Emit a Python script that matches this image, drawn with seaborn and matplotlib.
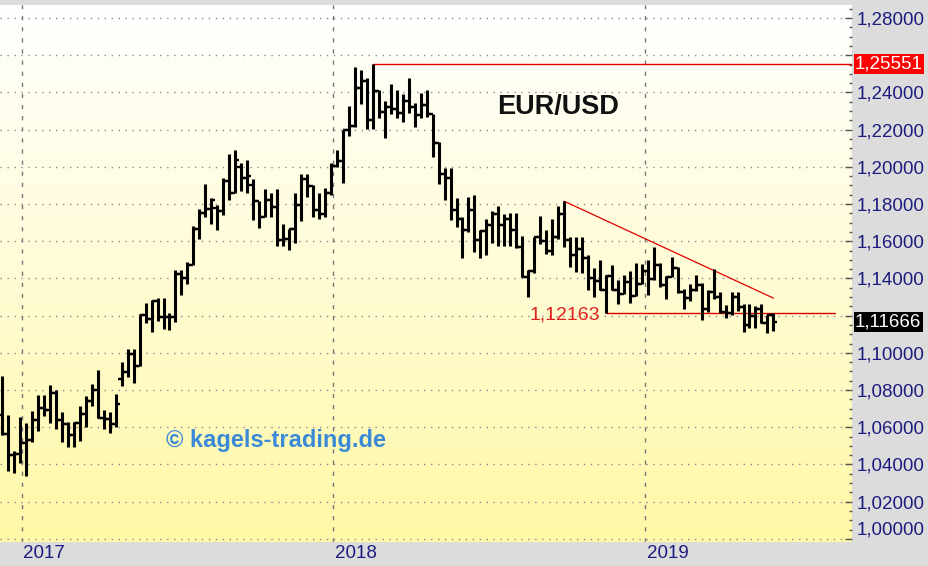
"""
eurusd_weekly.py
----------------
Weekly EUR/USD bar chart (Dec 2016 - May 2019) with the 2018 high,
the falling trend line and the support at 1,12163.
"""

import numpy as np
import pandas as pd
import matplotlib
matplotlib.use("Agg")
import matplotlib.pyplot as plt
import matplotlib.transforms as mtransforms
from matplotlib.colors import LinearSegmentedColormap
from matplotlib.path import Path
from matplotlib.ticker import FuncFormatter, MultipleLocator
import seaborn as sns

# weekly bars, dated by the Friday of each week
week_dates = pd.date_range("2016-12-09", "2019-05-31", freq="W-FRI")

opens = [
    1.0665, 1.0562, 1.0450, 1.0454, 1.0517, 1.0530, 1.0640, 1.0702, 1.0695, 1.0785,
    1.0640, 1.0615, 1.0560, 1.0620, 1.0670, 1.0740, 1.0800, 1.0650, 1.0645, 1.0615,
    1.0860, 1.0895, 1.0995, 1.0930, 1.1205, 1.1180, 1.1280, 1.1195, 1.1195, 1.1190,
    1.1425, 1.1400, 1.1470, 1.1665, 1.1750, 1.1775, 1.1780, 1.1760, 1.1925, 1.1860,
    1.2000, 1.1940, 1.1900, 1.1815, 1.1730, 1.1820, 1.1785, 1.1605, 1.1610, 1.1665,
    1.1795, 1.1935, 1.1895, 1.1770, 1.1745, 1.1860, 1.2005, 1.2030, 1.2200, 1.2220,
    1.2425, 1.2460, 1.2250, 1.2405, 1.2295, 1.2320, 1.2310, 1.2290, 1.2355, 1.2320,
    1.2280, 1.2330, 1.2285, 1.2130, 1.1960, 1.1940, 1.1770, 1.1720, 1.1660, 1.1770,
    1.1605, 1.1655, 1.1685, 1.1745, 1.1685, 1.1720, 1.1660, 1.1570, 1.1410, 1.1440,
    1.1620, 1.1600, 1.1550, 1.1625, 1.1745, 1.1605, 1.1525, 1.1560, 1.1510, 1.1400,
    1.1385, 1.1335, 1.1415, 1.1340, 1.1315, 1.1380, 1.1305, 1.1370, 1.1440, 1.1395,
    1.1470, 1.1365, 1.1405, 1.1455, 1.1325, 1.1295, 1.1335, 1.1365, 1.1235, 1.1325,
    1.1300, 1.1220, 1.1215, 1.1300, 1.1245, 1.1150, 1.1200, 1.1235, 1.1160, 1.1205,
]
highs = [
    1.0874, 1.0668, 1.0470, 1.0654, 1.0620, 1.0685, 1.0775, 1.0775, 1.0829, 1.0800,
    1.0680, 1.0630, 1.0630, 1.0715, 1.0770, 1.0830, 1.0905, 1.0690, 1.0680, 1.0780,
    1.0950, 1.1020, 1.1020, 1.1210, 1.1268, 1.1285, 1.1295, 1.1295, 1.1215, 1.1445,
    1.1445, 1.1490, 1.1680, 1.1775, 1.1910, 1.1830, 1.1795, 1.1940, 1.2070, 1.2090,
    1.2020, 1.2035, 1.1935, 1.1815, 1.1880, 1.1860, 1.1880, 1.1690, 1.1665, 1.1860,
    1.1960, 1.1960, 1.1900, 1.1860, 1.1885, 1.2020, 1.2090, 1.2200, 1.2325, 1.2535,
    1.2520, 1.2475, 1.2555, 1.2415, 1.2355, 1.2445, 1.2415, 1.2390, 1.2475, 1.2345,
    1.2395, 1.2415, 1.2285, 1.2135, 1.1995, 1.1995, 1.1830, 1.1730, 1.1840, 1.1850,
    1.1660, 1.1720, 1.1765, 1.1790, 1.1745, 1.1750, 1.1750, 1.1630, 1.1445, 1.1625,
    1.1735, 1.1660, 1.1720, 1.1790, 1.1815, 1.1625, 1.1620, 1.1620, 1.1525, 1.1455,
    1.1500, 1.1420, 1.1470, 1.1390, 1.1420, 1.1440, 1.1485, 1.1475, 1.1500, 1.1570,
    1.1485, 1.1415, 1.1515, 1.1460, 1.1345, 1.1370, 1.1420, 1.1375, 1.1340, 1.1450,
    1.1325, 1.1255, 1.1325, 1.1325, 1.1265, 1.1265, 1.1250, 1.1265, 1.1205, 1.1215,
]
lows = [
    1.0560, 1.0366, 1.0352, 1.0405, 1.0340, 1.0520, 1.0580, 1.0660, 1.0620, 1.0590,
    1.0520, 1.0495, 1.0495, 1.0525, 1.0600, 1.0715, 1.0650, 1.0590, 1.0570, 1.0600,
    1.0820, 1.0870, 1.0838, 1.0930, 1.1160, 1.1110, 1.1170, 1.1130, 1.1120, 1.1165,
    1.1310, 1.1370, 1.1470, 1.1610, 1.1730, 1.1690, 1.1660, 1.1740, 1.1820, 1.1860,
    1.1870, 1.1860, 1.1715, 1.1670, 1.1730, 1.1730, 1.1575, 1.1575, 1.1555, 1.1590,
    1.1710, 1.1840, 1.1730, 1.1720, 1.1730, 1.1850, 1.2000, 1.1915, 1.2165, 1.2215,
    1.2335, 1.2205, 1.2205, 1.2260, 1.2155, 1.2285, 1.2260, 1.2240, 1.2290, 1.2215,
    1.2260, 1.2270, 1.2055, 1.1910, 1.1820, 1.1715, 1.1675, 1.1510, 1.1650, 1.1540,
    1.1510, 1.1525, 1.1590, 1.1575, 1.1575, 1.1575, 1.1565, 1.1410, 1.1300, 1.1430,
    1.1585, 1.1530, 1.1525, 1.1610, 1.1570, 1.1460, 1.1435, 1.1430, 1.1335, 1.1300,
    1.1335, 1.1215, 1.1335, 1.1265, 1.1315, 1.1270, 1.1305, 1.1370, 1.1310, 1.1390,
    1.1355, 1.1290, 1.1405, 1.1320, 1.1235, 1.1280, 1.1330, 1.1175, 1.1220, 1.1290,
    1.1215, 1.1185, 1.1205, 1.1225, 1.1110, 1.1135, 1.1135, 1.1160, 1.1105, 1.1115,
]
closes = [
    1.0562, 1.0450, 1.0454, 1.0517, 1.0530, 1.0640, 1.0702, 1.0695, 1.0785, 1.0640,
    1.0615, 1.0560, 1.0620, 1.0670, 1.0740, 1.0800, 1.0650, 1.0645, 1.0615, 1.0725,
    1.0895, 1.0995, 1.0930, 1.1205, 1.1180, 1.1280, 1.1195, 1.1195, 1.1190, 1.1425,
    1.1400, 1.1470, 1.1665, 1.1750, 1.1775, 1.1820, 1.1760, 1.1925, 1.1860, 1.2035,
    1.1940, 1.1950, 1.1815, 1.1730, 1.1820, 1.1785, 1.1605, 1.1610, 1.1665, 1.1795,
    1.1935, 1.1895, 1.1770, 1.1745, 1.1860, 1.2005, 1.2030, 1.2200, 1.2220, 1.2425,
    1.2460, 1.2250, 1.2405, 1.2295, 1.2320, 1.2310, 1.2290, 1.2355, 1.2320, 1.2280,
    1.2330, 1.2285, 1.2130, 1.1960, 1.1940, 1.1770, 1.1720, 1.1660, 1.1770, 1.1605,
    1.1655, 1.1685, 1.1745, 1.1685, 1.1720, 1.1660, 1.1570, 1.1410, 1.1440, 1.1620,
    1.1600, 1.1550, 1.1625, 1.1745, 1.1605, 1.1525, 1.1560, 1.1510, 1.1400, 1.1385,
    1.1335, 1.1415, 1.1340, 1.1315, 1.1380, 1.1305, 1.1370, 1.1440, 1.1395, 1.1470,
    1.1365, 1.1405, 1.1455, 1.1325, 1.1295, 1.1335, 1.1365, 1.1235, 1.1325, 1.1300,
    1.1220, 1.1215, 1.1300, 1.1245, 1.1150, 1.1200, 1.1235, 1.1160, 1.1205, 1.1167,
]

# drawn lines and markers on the chart
high_2018 = 1.25551
high_2018_date = "2018-02-16"
support_level = 1.12163
support_dates = ["2018-11-16", "2019-08-11"]
trend_dates = ["2018-09-28", "2019-05-31"]
trend_values = [1.1815, 1.1294]
last_price = 1.11666
year_labels = ["2017", "2018", "2019"]

BG_GREY = "#dcdcdc"
NAVY = "#1c1c80"


def build_frame():
    df = pd.DataFrame({"date": week_dates, "open": opens, "high": highs,
                       "low": lows, "close": closes})
    return df


def fmt_price(v, pos=None):
    # 1,00 is drawn separately; 1,26 and 1,12 sit under the value boxes
    for hidden in (1.00, 1.26, 1.12):
        if abs(v - hidden) < 1e-9:
            return ""
    return f"{v:.5f}".replace(".", ",")


def plot_chart(df, out_path="out.png"):
    sns.set_theme(style="white")
    plt.rcParams["font.family"] = ["Liberation Sans", "DejaVu Sans"]

    fig = plt.figure(figsize=(9.29, 5.66), dpi=100, facecolor=BG_GREY)
    ax = fig.add_axes([0, 24 / 566, 852 / 929, 537 / 566])
    ax.set_axisbelow(True)

    # white -> pale yellow background
    cmap = LinearSegmentedColormap.from_list(
        "bg", [(0.0, "#fff8a6"), (0.5, "#fffcd6"), (1.0, "#ffffff")])
    ax.imshow(np.linspace(0, 1, 256).reshape(-1, 1), cmap=cmap, origin="lower",
              extent=[0, 1, 0, 1], transform=ax.transAxes, aspect="auto", zorder=0)

    # OHLC bars
    ax.vlines(df["date"], df["low"], df["high"], colors="black", linewidth=2.2, zorder=4)
    left_tick = Path([(-1, 0), (0, 0)])
    right_tick = Path([(0, 0), (1, 0)])
    sns.scatterplot(data=df, x="date", y="open", marker=left_tick, s=28, color="black",
                    edgecolor="black", linewidth=1.7, legend=False, ax=ax, zorder=4)
    sns.scatterplot(data=df, x="date", y="close", marker=right_tick, s=28, color="black",
                    edgecolor="black", linewidth=1.7, legend=False, ax=ax, zorder=4)

    # red lines
    ax.plot([pd.Timestamp(high_2018_date), pd.Timestamp("2019-09-30")],
            [high_2018, high_2018], color="#e00000", linewidth=1.0, zorder=3)
    ax.plot(pd.to_datetime(support_dates), [support_level, support_level],
            color="#e00000", linewidth=1.0, zorder=3)
    ax.plot(pd.to_datetime(trend_dates), trend_values, color="#e00000",
            linewidth=0.9, zorder=3)

    ax.set_xlim(pd.Timestamp("2016-12-06 14:00"), pd.Timestamp("2019-08-31"))
    ax.set_ylim(0.99828, 1.28699)

    # grid: dotted price lines, dashed year lines
    ax.yaxis.set_major_locator(MultipleLocator(0.02))
    ax.yaxis.set_minor_locator(MultipleLocator(0.005))
    ax.grid(axis="y", which="major", linestyle=(0, (1, 4)), color="#8a8a8a", linewidth=1.0)
    ax.grid(axis="x", visible=False)
    for yr in year_labels:
        ax.axvline(pd.Timestamp(f"{yr}-01-01"), linestyle=(0, (3, 5)), color="#777777",
                   linewidth=1.0, zorder=1)

    # right price axis
    ax.yaxis.tick_right()
    ax.yaxis.set_major_formatter(FuncFormatter(fmt_price))
    ax.tick_params(axis="y", which="major", direction="in", length=5, width=1,
                   color="#555555", labelcolor=NAVY, labelsize=13.5, pad=3.5)
    ax.tick_params(axis="y", which="minor", direction="in", length=2.5, width=1,
                   color="#555555")
    ax.tick_params(axis="x", which="both", bottom=False, labelbottom=False)
    for sp in ax.spines.values():
        sp.set_visible(False)
    ax.set_xlabel("")
    ax.set_ylabel("")

    yblend = mtransforms.blended_transform_factory(ax.transAxes, ax.transData)
    xblend = mtransforms.blended_transform_factory(ax.transData, ax.transAxes)
    ax.text(1.0 + 5 / 852, 1.0, "1,00000", transform=yblend, ha="left", va="bottom",
            color=NAVY, fontsize=13.5, clip_on=False)

    # value boxes on the axis
    ax.text(1.0 + 3 / 852, high_2018, f"{high_2018:.5f}".replace(".", ","),
            transform=yblend, ha="left", va="center", color="white", fontsize=13.5,
            clip_on=False, zorder=6,
            bbox=dict(boxstyle="square,pad=0.08", fc="#ff0000", ec="none"))
    ax.text(1.0 + 3 / 852, last_price, f"{last_price:.5f}".replace(".", ","),
            transform=yblend, ha="left", va="center", color="white", fontsize=13.5,
            clip_on=False, zorder=6,
            bbox=dict(boxstyle="square,pad=0.08", fc="black", ec="none"))

    # year labels in the bottom strip
    for yr in year_labels:
        ax.text(pd.Timestamp(f"{yr}-01-01") + pd.Timedelta(days=2), -0.0205, yr,
                transform=xblend, ha="left", va="center", color=NAVY, fontsize=13.5,
                clip_on=False)

    # annotations
    ax.text(558 / 852, (542 - 107) / 537, "EUR/USD", transform=ax.transAxes,
            ha="center", va="center", fontsize=19.5, fontweight="bold", color="#111111")
    ax.text(276 / 852, (542 - 440) / 537, "\u00a9 kagels-trading.de", transform=ax.transAxes,
            ha="center", va="center", fontsize=17, fontweight="bold", color="#3a8ad8")
    ax.text(565 / 852, (542 - 315) / 537, f"{support_level:.5f}".replace(".", ","),
            transform=ax.transAxes, ha="center", va="center", fontsize=14, color="#e02020")

    fig.savefig(out_path, dpi=100, facecolor=fig.get_facecolor())
    plt.close(fig)


if __name__ == "__main__":
    frame = build_frame()
    plot_chart(frame)
